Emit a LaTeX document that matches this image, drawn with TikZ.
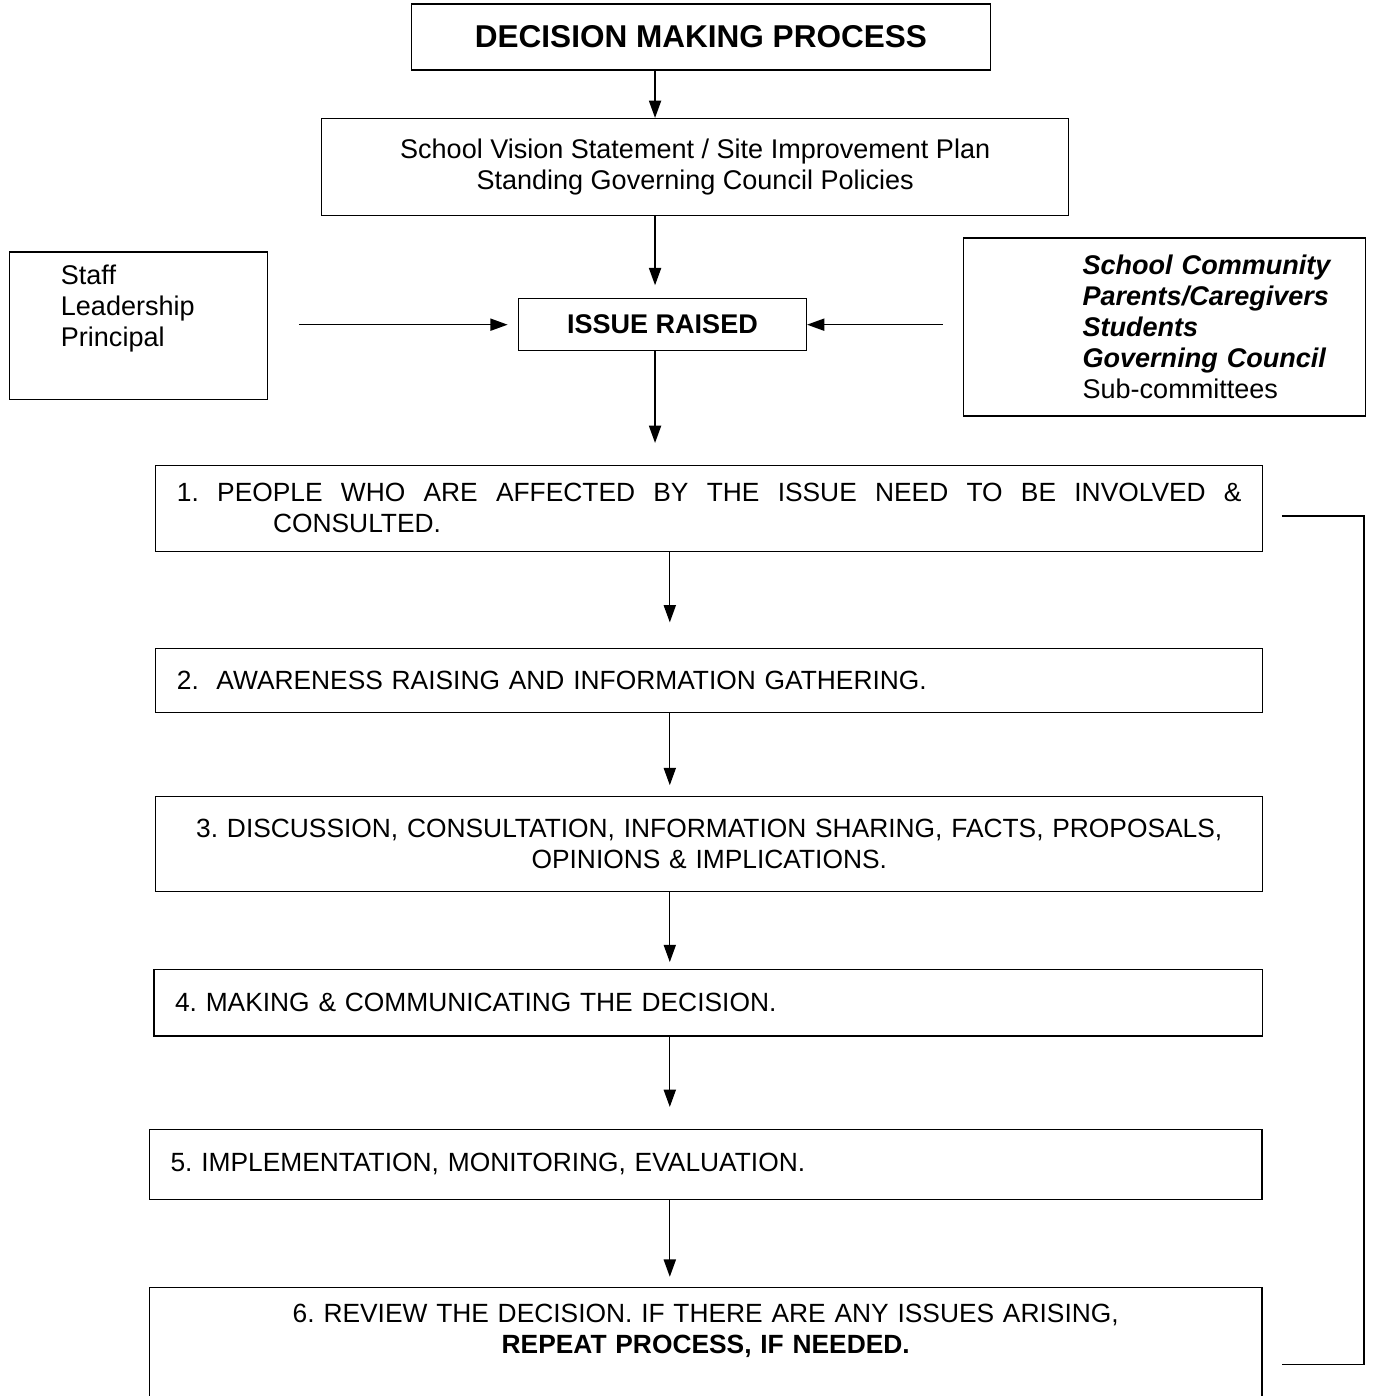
\documentclass[tikz,border=0pt]{standalone}
\usepackage{fontspec}
\setmainfont{Liberation Sans}
\usetikzlibrary{arrows.meta,positioning}

\begin{document}
\frenchspacing
\begin{tikzpicture}[
    box/.style={rectangle, draw, line width=0.6pt, anchor=north west, font=\fontsize{12pt}{13.8pt}\selectfont},
    headbox/.style={box, minimum width=9.03cm, minimum height=1.03cm, font=\fontsize{14pt}{16pt}\selectfont\bfseries},
    sidebox/.style={box, inner xsep=0.1cm, align=left},
    stage/.style={box, inner xsep=0.33cm, align=left, font=\fontsize{11.7pt}{13.8pt}\selectfont},
    arrow/.style={-{Triangle[length=0.27cm, width=0.19cm]}, line width=0.6pt}
]
    \useasboundingbox (0,0) rectangle (21.42,-21.78);

    % Title and policies
    \node[headbox] (title) at (6.41,-0.05) {DECISION MAKING PROCESS};
    \node[box, minimum width=11.65cm, minimum height=1.51cm, align=center] (vision) at (5.01,-1.84)
        {School Vision Statement / Site Improvement Plan\\Standing Governing Council Policies};

    % Issue and who raises it
    \node[box, minimum width=4.49cm, minimum height=0.81cm] (issue) at (8.08,-4.65) {\textbf{ISSUE RAISED}};
    \node[sidebox, text width=3.82cm, inner ysep=0.2cm, text depth=1.6cm] (staff) at (0.14,-3.92)
        {\hspace*{0.7cm}Staff\\\hspace*{0.7cm}Leadership\\\hspace*{0.7cm}Principal};
    \node[sidebox, text width=6.07cm, minimum height=2.78cm] (community) at (15.02,-3.70)
        {\hspace*{1.76cm}\textbf{\textit{School Community}}\\\hspace*{1.76cm}\textbf{\textit{Parents/Caregivers}}\\
         \hspace*{1.76cm}\textbf{\textit{Students}}\\\hspace*{1.76cm}\textbf{\textit{Governing Council}}\\
         \hspace*{1.76cm}Sub-committees};

    % Stages
    \node[stage, text width=16.61cm, minimum height=1.34cm] (stage1) at (2.42,-7.25)
        {\hbox to 16.61cm{\spaceskip=0.28em plus 1fil 1. PEOPLE WHO ARE AFFECTED BY THE ISSUE NEED TO BE INVOLVED \&}\\\hspace*{1.5cm}CONSULTED.};
    \node[stage, text width=16.61cm, minimum height=1.0cm] (stage2) at (2.42,-10.11)
        {2.\ \ AWARENESS RAISING AND INFORMATION GATHERING.};
    \node[stage, text width=16.61cm, minimum height=1.48cm, align=center] (stage3) at (2.42,-12.42)
        {3. DISCUSSION, CONSULTATION, INFORMATION SHARING, FACTS, PROPOSALS,\\OPINIONS \& IMPLICATIONS.};
    \node[stage, text width=16.64cm, minimum height=1.03cm] (stage4) at (2.39,-15.12)
        {4. MAKING \& COMMUNICATING THE DECISION.};
    \node[stage, text width=16.70cm, minimum height=1.09cm] (stage5) at (2.32,-17.61)
        {5. IMPLEMENTATION, MONITORING, EVALUATION.};
    \node[stage, text width=16.70cm, inner ysep=0.25cm, text depth=1.05cm, align=center] (stage6) at (2.32,-20.08)
        {6. REVIEW THE DECISION. IF THERE ARE ANY ISSUES ARISING,\\\textbf{REPEAT PROCESS, IF NEEDED.}};

    % Arrow lines
    \coordinate (spine) at (10.22,0);
    \coordinate (flow) at (10.45,0);
    \coordinate (looptop) at (20.0,-8.05);
    \coordinate (loopbottom) at (20.0,-21.29);

    \draw[arrow] (title.south -| spine) -- (vision.north -| spine);
    \draw[arrow, shorten >=0.2cm] (vision.south -| spine) -- (issue.north -| spine);
    \draw[arrow, shorten >=0.34cm] (issue.south -| spine) -- (stage1.north -| spine);
    \draw[arrow, shorten <=0.48cm, shorten >=0.16cm] (staff.east |- issue) -- (issue.west);
    \draw[arrow, shorten <=0.31cm] (community.west |- issue) -- (issue.east);

    \draw[arrow, shorten >=0.4cm] (stage1.south -| flow) -- (stage2.north -| flow);
    \draw[arrow, shorten >=0.17cm] (stage2.south -| flow) -- (stage3.north -| flow);
    \draw[arrow, shorten >=0.11cm] (stage3.south -| flow) -- (stage4.north -| flow);
    \draw[arrow, shorten >=0.34cm] (stage4.south -| flow) -- (stage5.north -| flow);
    \draw[arrow, shorten >=0.16cm] (stage5.south -| flow) -- (stage6.north -| flow);

    % Repeat bracket
    \draw[line width=0.6pt] (looptop) -- ++(1.28,0) |- (loopbottom);
\end{tikzpicture}
\end{document}
